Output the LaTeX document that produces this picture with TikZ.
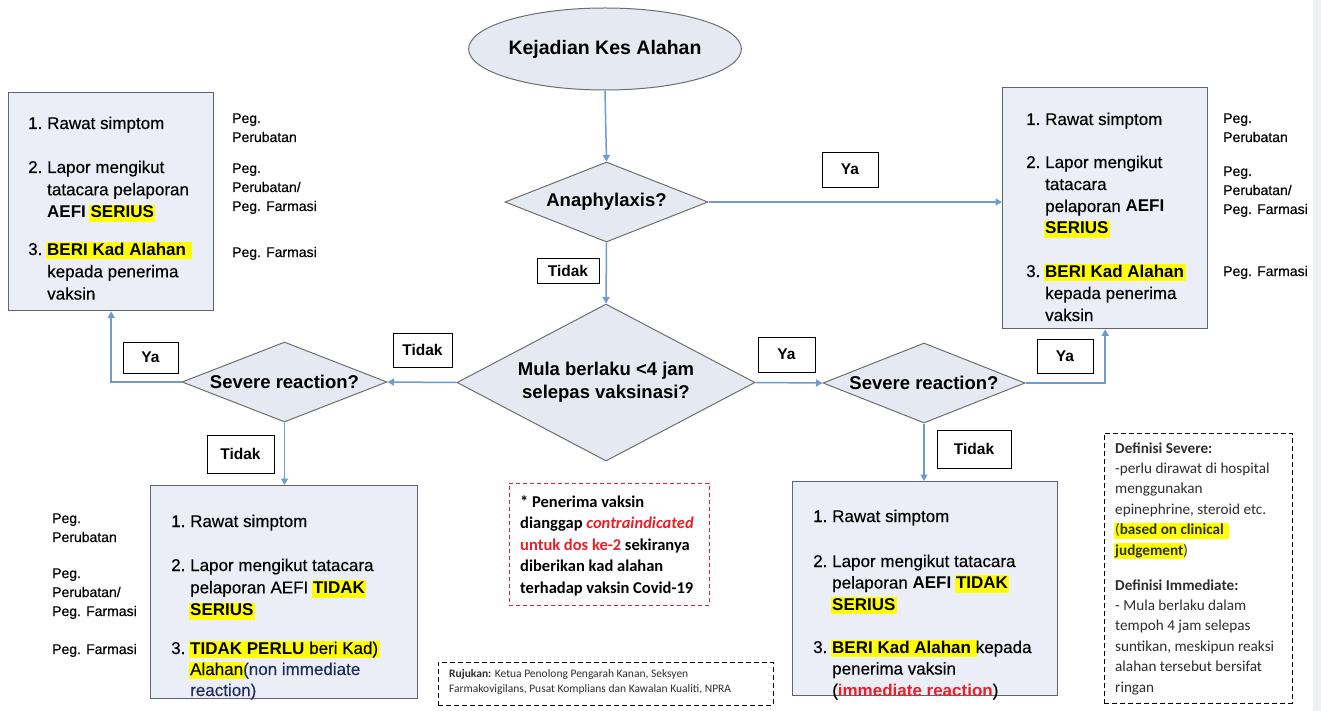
\documentclass[tikz,border=0pt]{standalone}
\usepackage{fontspec}
\setmainfont{Liberation Sans}[UprightFeatures={FakeBold=0.35}]
\newfontfamily\calib{Carlito}
\usetikzlibrary{shapes.geometric,arrows.meta}

\definecolor{flowline}{HTML}{6D9BD1}
\definecolor{boxedge}{HTML}{5F6470}
\definecolor{boxfill}{HTML}{EBEEF6}
\definecolor{decfill}{HTML}{E5E9F2}
\definecolor{decedge}{HTML}{6E6E6E}
\definecolor{hly}{RGB}{255,255,0}
\definecolor{alert}{HTML}{E8202A}
\definecolor{navy}{HTML}{1F2D5C}
\definecolor{inkgray}{HTML}{2E2E2E}
\definecolor{sidebar}{HTML}{EEF0F4}

% yellow marker behind a word, text stays where it would be
\newcommand\hl[1]{\begingroup\setlength\fboxsep{0pt}\kern-1.5pt\colorbox{hly}{\kern1.5pt\rule[-.26em]{0pt}{1.03em}#1\kern1.5pt}\kern-1.5pt\endgroup}
% numbered step with hanging lines
\newcommand\li[1]{\begin{tabular}[t]{@{}p{19pt}@{}l@{}}#1\end{tabular}}
% plain left-aligned block of lines
\newcommand\lines[1]{\begin{tabular}[t]{@{}l@{}}#1\end{tabular}}

\begin{document}
\begin{tikzpicture}[x=1pt,y=-1pt,
  flow/.style={draw=flowline,line width=1.5pt,-{Triangle[width=7pt,length=6.5pt]}},
  actbox/.style={draw=boxedge,fill=boxfill,line width=1.4pt,inner sep=0pt,anchor=north west},
  decision/.style={diamond,draw=decedge,fill=decfill,line width=1pt,inner sep=0pt,
    align=center,font=\bfseries\fontsize{18.5}{23}\selectfont},
  tag/.style={draw=black,fill=white,line width=0.9pt,inner sep=0pt,font=\bfseries\fontsize{15.5}{18}\selectfont},
  item/.style={inner sep=0pt,anchor=base west,font=\fontsize{17}{22.3}\selectfont},
  staff/.style={inner sep=0pt,anchor=base west,font=\fontsize{14}{19}\selectfont},
  frame/.style={inner sep=0pt,anchor=north west,line width=0.9pt,dash pattern=on 5pt off 3pt}
]
\useasboundingbox (0,0) rectangle (1321,711);
\fill[white] (0,0) rectangle (1321,711);
\fill[sidebar] (1313,0) rectangle (1321,711);

% ---------- start and decisions ----------
\node[ellipse,draw=decedge,fill=decfill,line width=1pt,minimum width=254pt,minimum height=82pt,
  inner sep=0pt,font=\bfseries\fontsize{19.5}{23}\selectfont] (start) at (605,49) {Kejadian Kes Alahan};
\node[decision,minimum width=203pt,minimum height=80pt,aspect=2.5] (ana) at (606.5,202) {Anaphylaxis?};
\node[decision,minimum width=298pt,minimum height=157pt,aspect=1.9] (onset) at (606,382.5)
  {Mula berlaku <4 jam\\selepas vaksinasi?};
\node[decision,minimum width=205pt,minimum height=80pt,aspect=2.6] (sevL) at (284.5,382) {\makebox[0pt]{Severe reaction?}};
\node[decision,minimum width=202pt,minimum height=80pt,aspect=2.6] (sevR) at (924,383) {\makebox[0pt]{Severe reaction?}};

% ---------- action boxes ----------
\node[actbox,minimum width=205pt,minimum height=218pt] (boxTL) at (8,92) {};
\node[actbox,minimum width=205pt,minimum height=241pt] (boxTR) at (1002,87) {};
\node[actbox,minimum width=267pt,minimum height=213pt] (boxBL) at (150,485) {};
\node[actbox,minimum width=265pt,minimum height=214pt] (boxBR) at (792,481) {};

% ---------- connectors ----------
\draw[flow] (start.south) -- (ana.north);
\draw[flow] (ana.east) -- (ana.east -| boxTR.west);
\draw[flow] (ana.south) -- (onset.north);
\draw[flow] (onset.west) -- (sevL.east);
\draw[flow] (onset.east) -- (sevR.west);
\draw[flow] (sevL.west) -| (boxTL.south);
\draw[flow] (sevR.east) -| (boxTR.south);
\draw[flow] (sevL.south) -- (sevL.south |- boxBL.north);
\draw[flow] (sevR.south) -- (sevR.south |- boxBR.north);

% ---------- branch tags ----------
\node[tag,minimum width=56pt,minimum height=35pt] (yaAna) at (850,169.5) {Ya};
\node[tag,minimum width=62pt,minimum height=25pt] (tdAna) at (568,270.5) {Tidak};
\node[tag,minimum width=59pt,minimum height=34pt] (tdOn) at (422.5,350) {Tidak};
\node[tag,minimum width=57pt,minimum height=35pt] (yaOn) at (786.5,354.5) {Ya};
\node[tag,minimum width=55pt,minimum height=31pt] (yaL) at (150.5,357.5) {Ya};
\node[tag,minimum width=67pt,minimum height=38pt] (tdL) at (240.5,454) {Tidak};
\node[tag,minimum width=56pt,minimum height=34pt] (yaR) at (1065,356) {Ya};
\node[tag,minimum width=74pt,minimum height=38pt] (tdR) at (974,449) {Tidak};

% ---------- steps: upper left ----------
\node[item] (tl1) at (28,129) {\li{1. & Rawat simptom}};
\node[item] (tl2) at (28,173) {\li{2. & Lapor mengikut\\ & tatacara pelaporan\\ & \textbf{AEFI} \hl{\textbf{SERIUS}}}};
\node[item] (tl3) at (28,255) {\li{3. & \hl{\textbf{BERI Kad Alahan}\ }\\ & kepada penerima\\ & vaksin}};
\node[staff] (stl1) at (232,123) {\lines{Peg.\\Perubatan}};
\node[staff] (stl2) at (232,173) {\lines{Peg.\\Perubatan/\\Peg. Farmasi}};
\node[staff] (stl3) at (232,257) {\lines{Peg. Farmasi}};

% ---------- steps: upper right ----------
\node[item,font=\fontsize{17}{22}\selectfont] (tr1) at (1026,125) {\li{1. & Rawat simptom}};
\node[item,font=\fontsize{17}{22}\selectfont] (tr2) at (1026,168) {\li{2. & Lapor mengikut\\ & tatacara\\ & pelaporan \textbf{AEFI}\\ & \hl{\textbf{SERIUS}}}};
\node[item,font=\fontsize{17}{22}\selectfont] (tr3) at (1026,277) {\li{3. & \hl{\textbf{BERI Kad Alahan}}\\ & kepada penerima\\ & vaksin}};
\node[staff] (str1) at (1223,123) {\lines{Peg.\\Perubatan}};
\node[staff] (str2) at (1223,176) {\lines{Peg.\\Perubatan/\\Peg. Farmasi}};
\node[staff] (str3) at (1223,276) {\lines{Peg. Farmasi}};

% ---------- steps: lower left ----------
\node[item] (bl1) at (171,527) {\li{1. & Rawat simptom}};
\node[item] (bl2) at (171,571) {\li{2. & Lapor mengikut tatacara\\ & pelaporan AEFI \hl{\textbf{TIDAK}}\\ & \hl{\textbf{SERIUS}}}};
\node[item,font=\fontsize{17}{21}\selectfont] (bl3) at (171,654)
  {\li{3. & \hl{\textbf{TIDAK PERLU} beri Kad)}\\ & \hl{Alahan}\textcolor{navy}{(non immediate}\\ & \textcolor{navy}{reaction)}}};
\node[staff] (sbl1) at (52,523) {\lines{Peg.\\Perubatan}};
\node[staff] (sbl2) at (52,578) {\lines{Peg.\\Perubatan/\\Peg. Farmasi}};
\node[staff] (sbl3) at (52,654) {\lines{Peg. Farmasi}};

% ---------- steps: lower right ----------
\node[item,font=\fontsize{17}{21.5}\selectfont] (br1) at (813,522) {\li{1. & Rawat simptom}};
\node[item,font=\fontsize{17}{21.5}\selectfont] (br2) at (813,567) {\li{2. & Lapor mengikut tatacara\\ & pelaporan \textbf{AEFI} \hl{\textbf{TIDAK}}\\ & \hl{\textbf{SERIUS}}}};
\node[item,font=\fontsize{17}{21.5}\selectfont] (br3) at (813,653)
  {\li{3. & \hl{\textbf{BERI Kad Alahan}\ }kepada\\ & penerima vaksin\\ & (\textcolor{alert}{\textbf{immediate reaction}})}};

% ---------- notes ----------
\node[frame,draw=alert,minimum width=200pt,minimum height=122pt,dash pattern=on 4pt off 3pt] (noteF) at (509,483) {};
\node[inner sep=0pt,anchor=base west,font=\calib\bfseries\fontsize{16.5}{21.5}\selectfont] (note) at (520,507)
  {\lines{* Penerima vaksin\\
   dianggap \textcolor{alert}{\textit{contraindicated}}\\
   \textcolor{alert}{untuk dos ke-2} sekiranya\\
   diberikan kad alahan\\
   terhadap vaksin Covid-19}};

\node[frame,draw=black,minimum width=188pt,minimum height=270pt] (defF) at (1104,433) {};
\node[inner sep=0pt,anchor=base west,text=inkgray,font=\calib\fontsize{15.2}{20.4}\selectfont] (defs) at (1115,453)
  {\lines{\textbf{Definisi Severe:}\\
   -perlu dirawat di hospital\\
   menggunakan\\
   epinephrine, steroid etc.\\
   \hl{(\textbf{based on clinical}\ }\\
   \hl{\textbf{judgement}})\\[14.6pt]
   \textbf{Definisi Immediate:}\\
   - Mula berlaku dalam\\
   tempoh 4 jam selepas\\
   suntikan, meskipun reaksi\\
   alahan tersebut bersifat\\
   ringan}};

\node[frame,draw=black,minimum width=335pt,minimum height=43pt] (refF) at (438,662) {};
\node[inner sep=0pt,anchor=base west,text=inkgray,font=\calib\fontsize{11.5}{15}\selectfont] (ref) at (449,677)
  {\lines{\textbf{Rujukan:} Ketua Penolong Pengarah Kanan, Seksyen\\
   Farmakovigilans, Pusat Komplians dan Kawalan Kualiti, NPRA}};
\end{tikzpicture}
\end{document}
